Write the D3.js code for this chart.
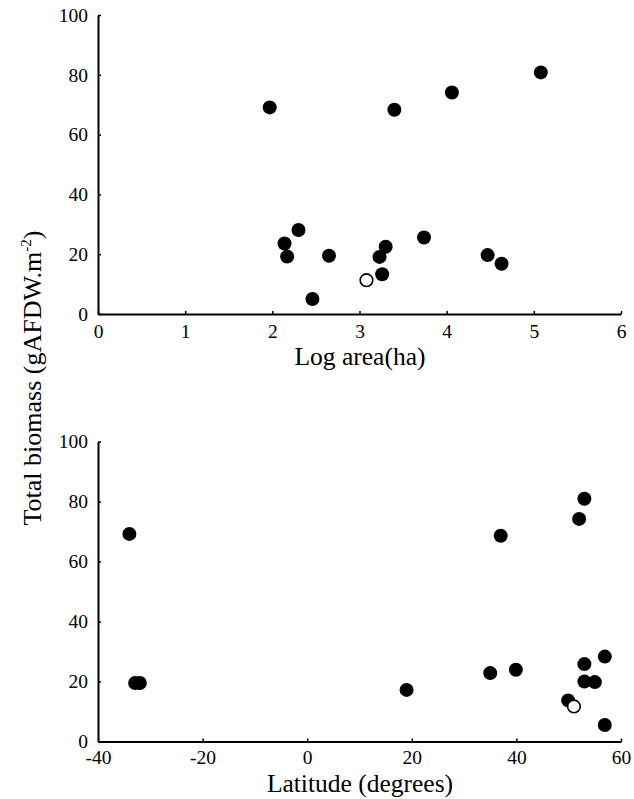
<!DOCTYPE html>
<html>
<head>
<meta charset="utf-8">
<script src="https://cdn.jsdelivr.net/npm/d3@7"></script>
<style>
  body { margin: 0; background: #fff; }
  text { font-family: "Liberation Serif", "Times New Roman", serif; fill: #000; }
</style>
</head>
<body>
<script>
// top panel: biomass vs log area
var logArea     = [1.97, 2.14, 2.17, 2.30, 2.46, 2.65, 3.40, 4.06, 5.08, 3.74, 3.30, 3.23, 3.26, 4.47, 4.63];
var biomassArea = [69.1, 23.6, 19.2, 28.1, 5.0, 19.5, 68.3, 74.1, 80.8, 25.6, 22.5, 19.1, 13.3, 19.7, 16.8];
var openArea    = [[3.08, 11.3]];

// bottom panel: biomass vs latitude
var latitude   = [-34.0, -32.9, -32.0, 19.0, 35.0, 39.9, 37.0, 52.0, 53.0, 56.9, 53.0, 53.0, 55.0, 49.9, 56.9];
var biomassLat = [69.2, 19.5, 19.5, 17.2, 22.8, 23.9, 68.6, 74.2, 80.9, 28.3, 25.8, 20.0, 19.8, 13.7, 5.5];
var openLat    = [[51.0, 11.7]];

var yTicks = [0, 20, 40, 60, 80, 100];
var areaTicks = [0, 1, 2, 3, 4, 5, 6];
var latTicks = [-40, -20, 0, 20, 40, 60];

var W = 634, H = 799;
var svg = d3.select("body").append("svg")
    .attr("width", W)
    .attr("height", H);

var fmt = function(d) { return String(d); };   // plain hyphen, no decimals

function panel(cfg) {
  var x = d3.scaleLinear().domain(cfg.xDomain).range([98, 621]);
  var y = d3.scaleLinear().domain([0, 100]).range([cfg.bottom, cfg.top]);

  var gx = svg.append("g")
      .attr("transform", "translate(0," + cfg.bottom + ")")
      .call(d3.axisBottom(x).tickValues(cfg.xTicks).tickFormat(fmt)
            .tickSizeInner(-3).tickSizeOuter(0).tickPadding(cfg.xPad));
  var gy = svg.append("g")
      .attr("transform", "translate(98,0)")
      .call(d3.axisLeft(y).tickValues(yTicks).tickFormat(fmt)
            .tickSizeInner(-3).tickSizeOuter(0).tickPadding(10));

  [gx, gy].forEach(function(g) {
    g.attr("font-family", null).attr("font-size", null);
    g.select(".domain").attr("stroke", "#000").attr("stroke-width", 2);
    g.selectAll(".tick line").attr("stroke", "#000").attr("stroke-width", 1.5);
    g.selectAll(".tick text")
      .style("font-family", '"Liberation Serif", "Times New Roman", serif')
      .style("font-size", "19.5px");
  });

  svg.append("text")
      .attr("x", 360)
      .attr("y", cfg.titleY)
      .attr("text-anchor", "middle")
      .style("font-size", "25.5px")
      .text(cfg.title);

  svg.append("g").selectAll("circle")
    .data(cfg.xs)
    .enter()
    .append("circle")
      .attr("cx", function(d) { return x(d) })
      .attr("cy", function(d, i) { return y(cfg.ys[i]) })
      .attr("r", 7)
      .style("fill", "#000");

  svg.append("g").selectAll("circle")
    .data(cfg.open)
    .enter()
    .append("circle")
      .attr("cx", function(d) { return x(d[0]) })
      .attr("cy", function(d) { return y(d[1]) })
      .attr("r", 6.3)
      .style("fill", "#fff")
      .style("stroke", "#000")
      .style("stroke-width", 1.6);
}

panel({xDomain: [0, 6], xTicks: areaTicks, top: 15, bottom: 314, xPad: 10,
       title: "Log area(ha)", titleY: 365, xs: logArea, ys: biomassArea, open: openArea});
panel({xDomain: [-40, 60], xTicks: latTicks, top: 441.5, bottom: 741.5, xPad: 9,
       title: "Latitude (degrees)", titleY: 792, xs: latitude, ys: biomassLat, open: openLat});

// shared y label
var yl = svg.append("text")
    .attr("transform", "translate(41,378) rotate(-90)")
    .attr("text-anchor", "middle")
    .style("font-size", "26px");
yl.append("tspan").text("Total biomass (gAFDW.m");
yl.append("tspan").attr("dy", -10).style("font-size", "15px").text("-2");
yl.append("tspan").attr("dy", 10).text(")");
</script>
</body>
</html>
